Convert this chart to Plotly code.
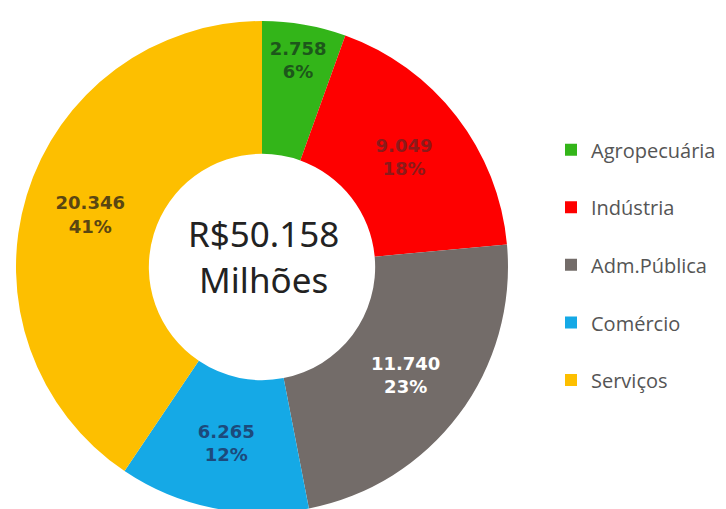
import plotly.graph_objects as go

categories = ["Agropecuária", "Indústria", "Adm.Pública", "Comércio", "Serviços"]
values = [2758, 9049, 11740, 6265, 20346]
value_labels = ["2.758", "9.049", "11.740", "6.265", "20.346"]
percent_labels = ["6%", "18%", "23%", "12%", "41%"]
slice_colors = ["#33b519", "#fe0000", "#736c69", "#15a9e6", "#fdbf00"]
text_colors = ["#1d571b", "#8c1a1a", "#ffffff", "#1c4a7c", "#5a4612"]
total_label = "R$50.158<br>Milhões"

nb = "\u00a0"
legend_labels = [f"<span style='font-size:20px'>{c}</span><br>{nb}" for c in categories]
slice_text = [f"{v}<br>{p}" for v, p in zip(value_labels, percent_labels)]

W, H = 726, 509
cx, cy, R = 254, 259, 246

fig = go.Figure(
    go.Pie(
        labels=legend_labels,
        values=values,
        text=slice_text,
        textinfo="text",
        textposition="inside",
        insidetextorientation="horizontal",
        textfont=dict(family="DejaVu Sans", size=18, color=text_colors, weight="bold"),
        marker=dict(colors=slice_colors, line=dict(width=0)),
        hole=0.46,
        sort=False,
        direction="clockwise",
        rotation=0,
        domain=dict(x=[(cx - R) / W, (cx + R) / W], y=[1 - (cy + R) / H, 1 - (cy - R) / H]),
        hoverinfo="skip",
    )
)

fig.add_annotation(
    text=total_label,
    x=255 / W, y=1 - 248 / H, xref="paper", yref="paper",
    showarrow=False,
    font=dict(family="Noto Sans", size=35, color="#222222"),
    align="center",
)

fig.update_layout(
    width=W, height=H,
    margin=dict(l=0, r=0, t=0, b=0),
    paper_bgcolor="white",
    plot_bgcolor="white",
    showlegend=True,
    legend=dict(
        x=543 / W, xanchor="left",
        y=1 - 270.5 / H, yanchor="middle",
        font=dict(family="Open Sans", size=21, color="#555555"),
        valign="top",
        traceorder="normal",
    ),
)

fig.write_html("out.html")
